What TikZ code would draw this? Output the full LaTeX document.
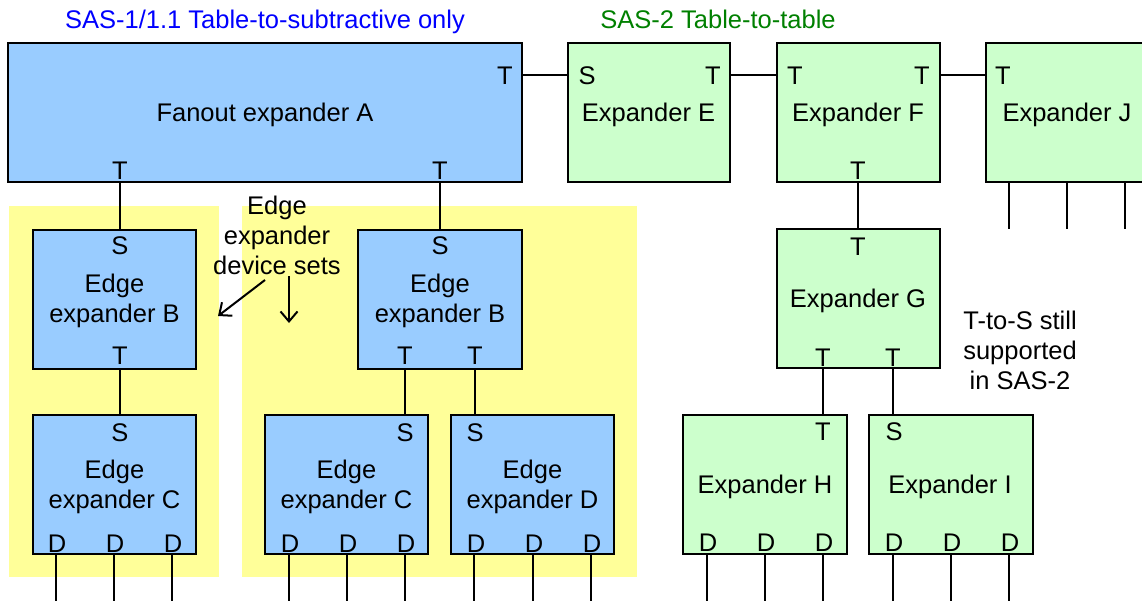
\documentclass[tikz,border=0pt]{standalone}
\usepackage{fontspec}
\setmainfont{Liberation Sans}
\usetikzlibrary{arrows.meta}
\definecolor{bluefill}{HTML}{99CCFF}
\definecolor{greenfill}{HTML}{CCFFCC}
\definecolor{yellowfill}{HTML}{FFFF99}
\definecolor{titleblue}{HTML}{0000FF}
\definecolor{titlegreen}{HTML}{008000}
\tikzset{
  every node/.style={font=\fontsize{25.5}{30}\selectfont, inner sep=0pt, outer sep=0pt},
  box/.style={draw=black, line width=2pt, minimum height=139pt},
  bbox/.style={box, fill=bluefill},
  gbox/.style={box, fill=greenfill},
  yzone/.style={fill=yellowfill, minimum height=371pt},
  lbl/.style={align=center},
  port/.style={anchor=base},
  wire/.style={line width=2pt},
  note/.style={align=center},
  pointer/.style={line width=2pt, -{Straight Barb[length=10pt,width=17pt,line width=2pt]}},
}
\begin{document}
\begin{tikzpicture}[x=1pt,y=-1pt]
\useasboundingbox (0,0) rectangle (1142,602);
\clip (0,0) rectangle (1142,602);

% titles
\node[port, text=titleblue] (t1) at (265,29) {SAS-1/1.1 Table-to-subtractive only};
\node[port, text=titlegreen] (t2) at (718,29) {SAS-2 Table-to-table};

% yellow device-set zones
\node[yzone, minimum width=210pt] (Y1) at (114,391.5) {};
\node[yzone, minimum width=395pt] (Y2) at (439.5,391.5) {};

% boxes
\node[bbox, minimum width=514pt] (A) at (265,112.5) {};
\node[gbox, minimum width=162pt] (E) at (649,112.5) {};
\node[gbox, minimum width=163pt] (F) at (858.5,112.5) {};
\node[gbox, minimum width=163pt] (J) at (1067.5,112.5) {};
\node[gbox, minimum width=163pt] (G) at (858.5,298.5) {};
\node[gbox, minimum width=164pt] (H) at (765,484.5) {};
\node[gbox, minimum width=164pt] (I) at (951,484.5) {};
\node[bbox, minimum width=163pt] (B1) at (114.5,299.5) {};
\node[bbox, minimum width=164pt] (B2) at (440,299.5) {};
\node[bbox, minimum width=163pt] (C1) at (114.5,484.5) {};
\node[bbox, minimum width=163pt] (C2) at (346.5,484.5) {};
\node[bbox, minimum width=163pt] (Dx) at (532.5,484.5) {};

% box titles
\node[lbl] (Alab) at (265,115) {\strut Fanout expander A};
\node[lbl] (Elab) at (648.5,115) {\strut Expander E};
\node[lbl] (Flab) at (858,115) {\strut Expander F};
\node[lbl] (Jlab) at (1067,115) {\strut Expander J};
\node[lbl] (Glab) at (858,301) {\strut Expander G};
\node[lbl] (Hlab) at (765,487) {\strut Expander H};
\node[lbl] (Ilab) at (950,487) {\strut Expander I};
\node[lbl] (B1lab) at (114.5,301) {Edge\\expander B};
\node[lbl] (B2lab) at (440,301) {Edge\\expander B};
\node[lbl] (C1lab) at (114.5,486.5) {Edge\\expander C};
\node[lbl] (C2lab) at (346.5,486.5) {Edge\\expander C};
\node[lbl] (Dlab) at (532.5,486.5) {Edge\\expander D};

% port letters
\node[port] (A1) at (505,84) {T};
\node[port] (A2) at (120,179) {T};
\node[port] (A3) at (440,179) {T};
\node[port] (E1) at (587,84) {S};
\node[port] (E2) at (713,84) {T};
\node[port] (F1) at (795,84) {T};
\node[port] (F2) at (922,84) {T};
\node[port] (F3) at (858,179) {T};
\node[port] (J1) at (1003,84) {T};
\node[port] (G1) at (858,255) {T};
\node[port] (G2) at (823,366) {T};
\node[port] (G3) at (893,366) {T};
\node[port] (H1) at (823,440) {T};
\node[port] (H2) at (708,551) {D};
\node[port] (H3) at (766,551) {D};
\node[port] (H4) at (824,551) {D};
\node[port] (I1) at (894,440) {S};
\node[port] (I2) at (894,551) {D};
\node[port] (I3) at (952,551) {D};
\node[port] (I4) at (1010,551) {D};
\node[port] (B1a) at (120,254) {S};
\node[port] (B1b) at (120,364) {T};
\node[port] (B2a) at (440,254) {S};
\node[port] (B2b) at (405,364) {T};
\node[port] (B2c) at (475,364) {T};
\node[port] (C1a) at (120,441) {S};
\node[port] (C1b) at (57,552) {D};
\node[port] (C1c) at (115,552) {D};
\node[port] (C1d) at (173,552) {D};
\node[port] (C2a) at (405,441) {S};
\node[port] (C2b) at (290,552) {D};
\node[port] (C2c) at (348,552) {D};
\node[port] (C2d) at (406,552) {D};
\node[port] (Da) at (475,441) {S};
\node[port] (Db) at (476,552) {D};
\node[port] (Dc) at (534,552) {D};
\node[port] (Dd) at (592,552) {D};

% connectors between expanders
\draw[wire] (A.east |- 0,75) -- (E.west |- 0,75);
\draw[wire] (E.east |- 0,75) -- (F.west |- 0,75);
\draw[wire] (F.east |- 0,75) -- (J.west |- 0,75);
\draw[wire] (A.south -| 120,0) -- (B1.north -| 120,0);
\draw[wire] (A.south -| 440,0) -- (B2.north -| 440,0);
\draw[wire] (F.south -| 858,0) -- (G.north -| 858,0);
\draw[wire] (B1.south -| 120,0) -- (C1.north -| 120,0);
\draw[wire] (B2.south -| 405,0) -- (C2.north -| 405,0);
\draw[wire] (B2.south -| 475,0) -- (Dx.north -| 475,0);
\draw[wire] (G.south -| 823,0) -- (H.north -| 823,0);
\draw[wire] (G.south -| 893,0) -- (I.north -| 893,0);

% downward stubs
\foreach \x in {1009,1067,1125} \draw[wire] (J.south -| \x,0) -- ++(0,47);
\foreach \x in {56,114,172} \draw[wire] (C1.south -| \x,0) -- ++(0,47);
\foreach \x in {289,347,405} \draw[wire] (C2.south -| \x,0) -- ++(0,47);
\foreach \x in {474,533,591} \draw[wire] (Dx.south -| \x,0) -- ++(0,47);
\foreach \x in {707,765,823} \draw[wire] (H.south -| \x,0) -- ++(0,47);
\foreach \x in {893,951,1009} \draw[wire] (I.south -| \x,0) -- ++(0,47);

% annotations
\node[note] (sets) at (277,235) {Edge\\expander\\device sets};
\node[note] (tts) at (1020,350) {T-to-S still\\supported\\in SAS-2};
\coordinate (p1s) at (265,280);
\coordinate (p1e) at (218,316);
\coordinate (p2s) at (289,276);
\coordinate (p2e) at (289,323);
\draw[pointer] (p1s) -- (p1e);
\draw[pointer] (p2s) -- (p2e);
\end{tikzpicture}
\end{document}
